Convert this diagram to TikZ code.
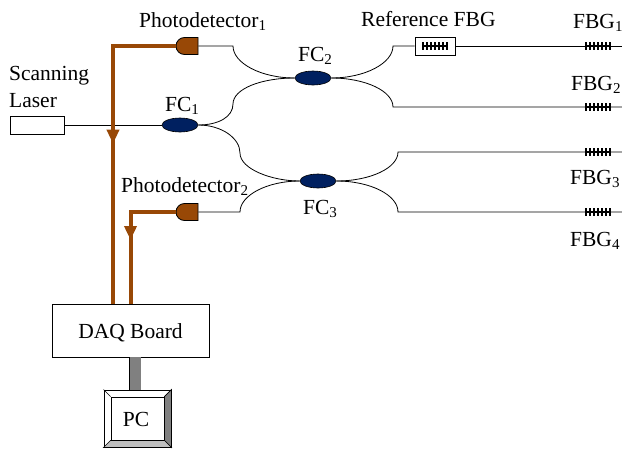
\documentclass[tikz,border=0pt]{standalone}
\usepackage{fontspec}
\setmainfont{Liberation Serif}
\usetikzlibrary{arrows.meta,decorations.markings,shapes.geometric,shapes.misc}
\definecolor{couplerblue}{RGB}{0,32,96}
\definecolor{wirebrown}{RGB}{152,72,6}
\tikzset{
  fibre/.style={line width=.8pt},
  coupler/.style={ellipse,draw=black,line width=.6pt,fill=couplerblue,minimum width=36pt,minimum height=14pt,inner sep=0pt},
  detector/.style={rounded rectangle,rounded rectangle right arc=none,draw=black,line width=.8pt,fill=wirebrown,minimum width=22pt,minimum height=17pt,inner sep=0pt},
  wire/.style={line width=4pt,wirebrown},
  wirearrow/.style={wire,postaction={decorate},decoration={markings,mark=at position #1 with {\arrow{Triangle[length=14pt,width=12pt]}}}},
  label/.style={font=\fontsize{21.5}{25}\selectfont,inner sep=0pt},
  box/.style={draw=black,line width=.9pt,fill=white,inner sep=0pt},
}
\newcommand{\grating}[2]{%
  \draw[line width=2pt] (#1,#2) -- ++(26,0);
  \foreach \t in {0,...,6}
    \draw[line width=1.5pt] ({#1+.8+\t*4.07},#2-4) -- ++(0,8);
}
\newcommand{\sub}[1]{\textsubscript{#1}}
\begin{document}
\begin{tikzpicture}[x=1pt,y=-1pt]
  \useasboundingbox (0,0) rectangle (622,450);
  % couplers and detectors
  \node[coupler] (fc1) at (180,125) {};
  \node[coupler] (fc2) at (313,78) {};
  \node[coupler] (fc3) at (318,181) {};
  \node[detector] (pd1) at (187,46) {};
  \node[detector] (pd2) at (187,212) {};
  \node[box,minimum width=54pt,minimum height=18pt] (laser) at (37,125) {};
  \node[box,minimum width=40pt,minimum height=18pt] (ref) at (435,46) {};
  \node[box,minimum width=157pt,minimum height=53pt] (daq) at (130.5,330.5) {};
  \node[box,minimum width=67pt,minimum height=57pt] (pcbox) at (137.5,418.5) {};
  \node[box,minimum width=53pt,minimum height=43pt] (pc) at (137.5,418.5) {};
  % fibre ends
  \coordinate (a) at (233,46);
  \coordinate (b) at (233,104);
  \coordinate (c) at (240,153);
  \coordinate (d) at (240,212);
  \coordinate (e) at (393,46);
  \coordinate (f) at (393,107);
  \coordinate (g) at (398,152);
  \coordinate (h) at (398,212);
  \coordinate (end1) at (622,46);
  \coordinate (end2) at (622,107);
  \coordinate (end3) at (622,152);
  \coordinate (end4) at (622,212);
  \coordinate (bus) at (135,357);
  \coordinate (daqin) at (113,304);
  % fibres
  \draw[fibre] (laser) -- (fc1);
  \draw[fibre] (pd1.east) -- (a) .. controls +(0,17) and +(-34,0) .. (fc2.west);
  \draw[fibre] (fc1.east) .. controls +(20,0) and +(0,13) .. (b) .. controls +(0,-15) and +(-34,0) .. (fc2.west);
  \draw[fibre] (fc1.east) .. controls +(23,0) and +(0,-15) .. (c) .. controls +(0,16) and +(-28,0) .. (fc3.west);
  \draw[fibre] (pd2.east) -- (d) .. controls +(0,-17) and +(-32,0) .. (fc3.west);
  \draw[fibre] (fc2.east) .. controls +(34,0) and +(0,17) .. (e) -- (ref.west);
  \draw[fibre] (ref.east) -- (end1);
  \draw[fibre] (fc2.east) .. controls +(34,0) and +(0,-16) .. (f) -- (end2);
  \draw[fibre] (fc3.east) .. controls +(34,0) and +(0,16) .. (g) -- (end3);
  \draw[fibre] (fc3.east) .. controls +(34,0) and +(0,-17) .. (h) -- (end4);
  % gratings
  \grating{422}{46}
  \grating{585}{46}
  \grating{585}{107}
  \grating{585}{152}
  \grating{585}{212}
  % signal wires
  \draw[wirearrow=.5] (pd1.west) -| (daqin);
  \draw[wirearrow=.535] (pd2.west) -| (daq.north);
  \draw[line width=.8pt,double=gray,double distance=11pt] (bus) -- (bus |- pcbox.north);
  % pc bevel
  \draw[line width=.7pt,fill=gray] (pcbox.north east) -- (pc.north east) -- (pc.south east) -- (pcbox.south east) -- cycle;
  \draw[line width=.7pt,fill=black!25] (pcbox.south west) -- (pc.south west) -- (pc.south east) -- (pcbox.south east) -- cycle;
  \draw[line width=.7pt] (pcbox.north west) -- (pc.north west);
  \draw[line width=.7pt] (pcbox.north east) -- (pc.north east);
  % labels
  \node[label,anchor=base] (daqtext) at (130.5,338) {DAQ Board};
  \node[label,anchor=base] (pctext) at (136,426) {PC};
  \node[label,anchor=base west] (scan1) at (9,80) {Scanning};
  \node[label,anchor=base west] (scan2) at (9,107) {Laser};
  \node[label,anchor=base west] (pd1text) at (139,27) {Photodetector\sub{1}};
  \node[label,anchor=base west] (pd2text) at (121,192) {Photodetector\sub{2}};
  \node[label,anchor=base west] (reftext) at (361,26) {Reference FBG};
  \node[label,anchor=base west] (fc1text) at (165,111) {FC\sub{1}};
  \node[label,anchor=base west] (fc2text) at (298,61) {FC\sub{2}};
  \node[label,anchor=base west] (fc3text) at (303,214) {FC\sub{3}};
  \node[label,anchor=base west] (fbg1) at (573,28) {FBG\sub{1}};
  \node[label,anchor=base west] (fbg2) at (571,90) {FBG\sub{2}};
  \node[label,anchor=base west] (fbg3) at (570,184) {FBG\sub{3}};
  \node[label,anchor=base west] (fbg4) at (570,246) {FBG\sub{4}};
\end{tikzpicture}
\end{document}
